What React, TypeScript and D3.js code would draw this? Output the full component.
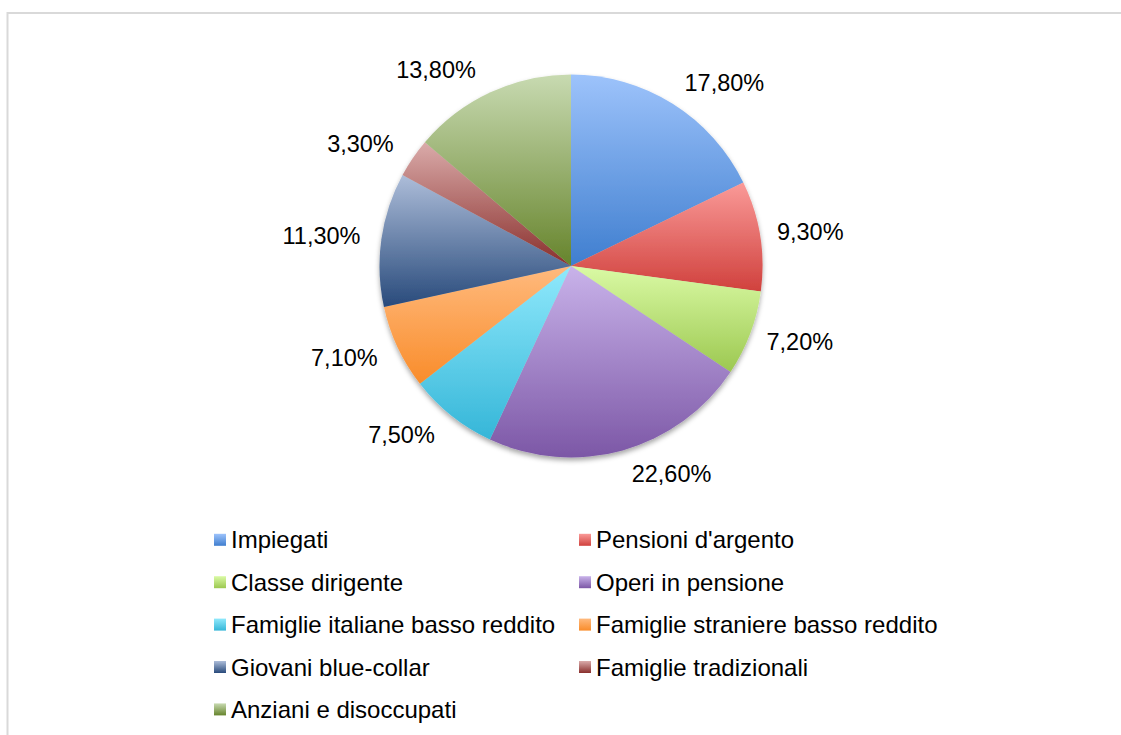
import React from "react";
import * as d3 from "d3";

const categories = [
  "Impiegati",
  "Pensioni d'argento",
  "Classe dirigente",
  "Operi in pensione",
  "Famiglie italiane basso reddito",
  "Famiglie straniere basso reddito",
  "Giovani blue-collar",
  "Famiglie tradizionali",
  "Anziani e disoccupati",
];
const values = [17.8, 9.3, 7.2, 22.6, 7.5, 7.1, 11.3, 3.3, 13.8];
const labels = ["17,80%", "9,30%", "7,20%", "22,60%", "7,50%", "7,10%", "11,30%", "3,30%", "13,80%"];
const topColors = ["#9DC3FB", "#FA9A98", "#DAFAA5", "#C9B3EA", "#90E9FC", "#FFBA7E", "#ADBDD9", "#DAABAA", "#C8DAB1"];
const bottomColors = ["#3F7ECF", "#D0413D", "#9CC850", "#7C57A6", "#35B6D8", "#F98C2A", "#284A7B", "#892F2C", "#66842C"];

const FONT = "'Liberation Sans', Arial, Helvetica, sans-serif";

export default function App() {
  const W = 1121, H = 735;
  const cx = 571, cy = 266, R = 191.5;
  const pie = d3.pie<number>().sort(null).value((d) => d)(values);
  const arc = d3.arc<d3.PieArcDatum<number>>().innerRadius(0).outerRadius(R);

  const fs = 23.5;
  const legendFs = 24;
  const labelR = R + 11;
  const legendX = [214, 579];
  const legendY0 = 548.3;
  const legendStep = 42.4;

  return (
    <svg
      width={W}
      height={H}
      style={{ position: "absolute", left: 0, top: 0, background: "#fff" }}
    >
      <defs>
        {categories.map((c, i) => (
          <linearGradient key={c} id={`g${i}`} x1="0" y1="0" x2="0" y2="1">
            <stop offset="0" stopColor={topColors[i]} />
            <stop offset="1" stopColor={bottomColors[i]} />
          </linearGradient>
        ))}
        <filter id="shadow" x="-20%" y="-20%" width="140%" height="140%">
          <feDropShadow dx="0" dy="3" stdDeviation="2.5" floodColor="#000" floodOpacity="0.35" />
        </filter>
      </defs>
      <rect x={7.5} y={13} width={W + 20} height={H + 20} fill="#fff" stroke="#d9d9d9" strokeWidth={2} />
      <g transform={`translate(${cx},${cy})`}>
        <g filter="url(#shadow)">
          {pie.map((p, i) => (
            <path key={i} d={arc(p) || ""} fill={`url(#g${i})`} />
          ))}
        </g>
        {pie.map((p, i) => {
          const a = (p.startAngle + p.endAngle) / 2;
          const s = Math.sin(a), c = Math.cos(a);
          const ax = labelR * s;
          const ay = -labelR * c;
          const gap = s >= 0 ? 6 : 10;
          const tx = s >= 0 ? ax + gap : ax - gap;
          const ty = ay - c * 14 + 8;
          return (
            <text
              key={i}
              x={tx}
              y={ty}
              textAnchor={s >= 0 ? "start" : "end"}
              fontFamily={FONT}
              fontSize={fs}
              fill="#000"
            >
              {labels[i]}
            </text>
          );
        })}
      </g>
      {categories.map((c, i) => {
        const col = i % 2;
        const row = Math.floor(i / 2);
        const x = legendX[col];
        const y = legendY0 + row * legendStep;
        return (
          <g key={c}>
            <rect x={x} y={y - 14.5} width={12} height={12} fill={`url(#g${i})`} />
            <text x={x + 17} y={y} fontFamily={FONT} fontSize={legendFs} fill="#000">
              {c}
            </text>
          </g>
        );
      })}
    </svg>
  );
}
